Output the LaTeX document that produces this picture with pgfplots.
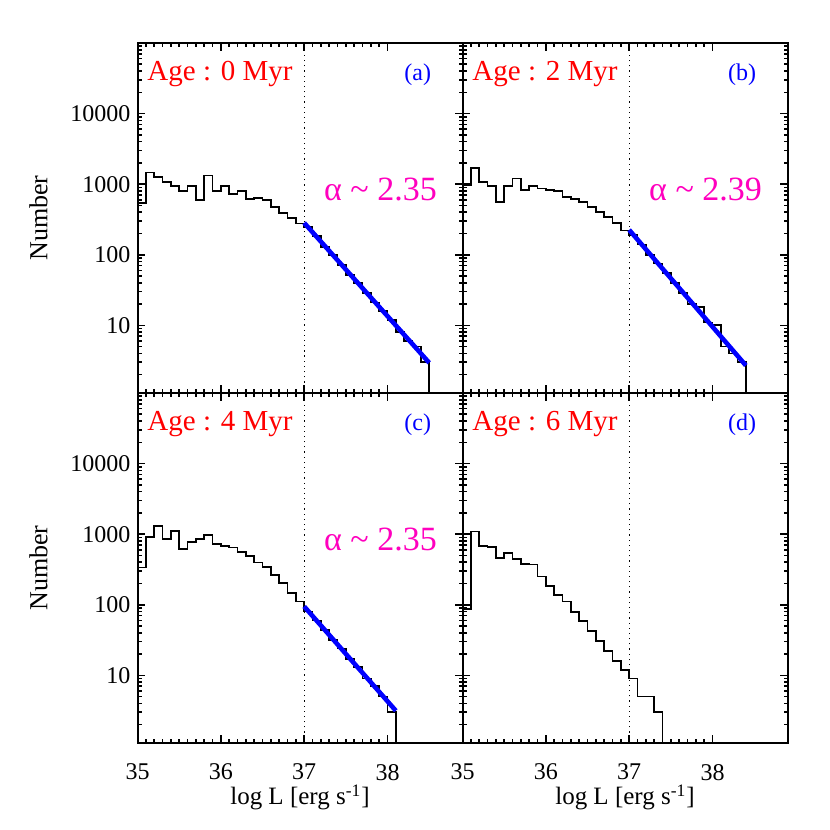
\documentclass[border=0pt]{standalone}
\usepackage{pgfplots}
\pgfplotsset{compat=1.18}
\usepackage{pgfplotstable}
\usepackage{fontspec}
\setmainfont{Liberation Serif}
\definecolor{agered}{RGB}{255,0,0}
\definecolor{lblblue}{RGB}{0,0,255}
\definecolor{alphamag}{RGB}{255,0,190}

\pgfplotstableread{
x y
35.0 535
35.1 1460
35.2 1270
35.3 1080
35.4 947
35.5 805
35.6 937
35.7 595
35.8 1325
35.9 797
36.0 947
36.1 723
36.2 805
36.3 615
36.4 635
36.5 589
36.6 480
36.7 395
36.8 335
36.9 277
37.0 245
37.1 185
37.2 130
37.3 100
37.4 72
37.5 52
37.6 40
37.7 29
37.8 21
37.9 16
38.0 12
38.1 8
38.2 6
38.3 5
38.4 3
38.5 0.5
}\histA

\pgfplotstableread{
x y
35.0 968
35.1 1700
35.2 1080
35.3 947
35.4 552
35.5 947
35.6 1200
35.7 823
35.8 947
35.9 869
36.0 832
36.1 805
36.2 663
36.3 615
36.4 552
36.5 469
36.6 399
36.7 339
36.8 285
36.9 220
37.0 190
37.1 140
37.2 100
37.3 75
37.4 55
37.5 40
37.6 29
37.7 20
37.8 18
37.9 11
38.0 10
38.1 5
38.2 4
38.3 3
38.4 0.5
}\histB

\pgfplotstableread{
x y
35.0 337
35.1 916
35.2 1313
35.3 850
35.4 1115
35.5 612
35.6 778
35.7 850
35.8 968
35.9 721
36.0 684
36.1 647
36.2 562
36.3 493
36.4 397
36.5 344
36.6 265
36.7 202
36.8 146
36.9 111
37.0 80
37.1 60
37.2 44
37.3 32
37.4 24
37.5 17
37.6 13
37.7 9
37.8 7
37.9 5
38.0 3
38.1 0.5
}\histC

\pgfplotstableread{
x y
35.0 86
35.1 1091
35.2 684
35.3 662
35.4 457
35.5 545
35.6 447
35.7 380
35.8 372
35.9 252
36.0 185
36.1 138
36.2 111
36.3 78
36.4 59
36.5 43
36.6 31
36.7 22
36.8 16
36.9 12
37.0 9
37.1 5
37.2 5
37.3 3
37.4 0.5
}\histD

\newcommand{\agefont}{\fontsize{14.5bp}{16bp}\selectfont}
\newcommand{\letfont}{\fontsize{12bp}{14bp}\selectfont}
\newcommand{\alfont}{\fontsize{17bp}{19bp}\selectfont}
\newcommand{\tlfont}{\fontsize{12bp}{14bp}\selectfont}
\newcommand{\xlbfont}{\fontsize{12.5bp}{14bp}\selectfont}
\newcommand{\ylbfont}{\fontsize{13bp}{15bp}\selectfont}

\tikzset{
  myhist/.style={const plot, black, line width=0.9bp},
  myfit/.style={blue, line width=2.3bp},
  myvline/.style={black, dotted, line width=0.6bp},
}

\begin{document}
\begin{tikzpicture}
\path[use as bounding box] (0,0) rectangle (415bp,415bp);

% (a)
\begin{semilogyaxis}[at={(68.75bp,218.5bp)}, anchor=south west,
    scale only axis, width=162.5bp, height=175bp,
    xmin=35, xmax=38.9, ymin=1.1, ymax=100000,
    xtick={35,36,37,38}, minor x tick num=9,
    ytick={10,100,1000,10000},
    minor ytick={2,3,4,5,6,7,8,9,20,30,40,50,60,70,80,90,200,300,400,500,600,700,800,900,2000,3000,4000,5000,6000,7000,8000,9000,20000,30000,40000,50000,60000,70000,80000,90000},
    tick align=inside, major tick length=3.8bp, minor tick length=2bp,
    every tick/.append style={black, line width=0.8bp},
    axis line style={line width=1bp},
    tick label style={font=\tlfont},
    ylabel style={font=\ylbfont, at={(axis description cs:-0.3046,0.5)}, anchor=center},
  xticklabels={}, yticklabels={10,100,1000,10000}, ylabel={Number}]
\addplot[myvline] coordinates {(37,1.1) (37,100000)};
\addplot[myhist] table {\histA};
\addplot[myfit] coordinates {(37,283) (38.5,2.95)};
\node[anchor=base west, text=agered, font=\agefont, inner sep=0pt] at (axis description cs:0.0295,0.893) {Age : 0 Myr};
\node[anchor=base east, text=lblblue, font=\letfont, inner sep=0pt] at (axis description cs:0.9045,0.893) {(a)};
\node[anchor=base east, text=alphamag, font=\alfont, inner sep=0pt] at (axis description cs:0.9225,0.551) {α \char"007E\ 2.35};
\end{semilogyaxis}

% (b)
\begin{semilogyaxis}[at={(231.25bp,218.5bp)}, anchor=south west,
    scale only axis, width=162.5bp, height=175bp,
    xmin=35, xmax=38.9, ymin=1.1, ymax=100000,
    xtick={35,36,37,38}, minor x tick num=9,
    ytick={10,100,1000,10000},
    minor ytick={2,3,4,5,6,7,8,9,20,30,40,50,60,70,80,90,200,300,400,500,600,700,800,900,2000,3000,4000,5000,6000,7000,8000,9000,20000,30000,40000,50000,60000,70000,80000,90000},
    tick align=inside, major tick length=3.8bp, minor tick length=2bp,
    every tick/.append style={black, line width=0.8bp},
    axis line style={line width=1bp},
    tick label style={font=\tlfont},
  xticklabels={}, yticklabels={}]
\addplot[myvline] coordinates {(37,1.1) (37,100000)};
\addplot[myhist] table {\histB};
\addplot[myfit] coordinates {(37,225) (38.4,2.7)};
\node[anchor=base west, text=agered, font=\agefont, inner sep=0pt] at (axis description cs:0.0295,0.893) {Age : 2 Myr};
\node[anchor=base east, text=lblblue, font=\letfont, inner sep=0pt] at (axis description cs:0.9045,0.893) {(b)};
\node[anchor=base east, text=alphamag, font=\alfont, inner sep=0pt] at (axis description cs:0.9225,0.551) {α \char"007E\ 2.39};
\end{semilogyaxis}

% (c)
\begin{semilogyaxis}[at={(68.75bp,43.5bp)}, anchor=south west,
    scale only axis, width=162.5bp, height=175bp,
    xmin=35, xmax=38.9, ymin=1.1, ymax=100000,
    xtick={35,36,37,38}, minor x tick num=9,
    ytick={10,100,1000,10000},
    minor ytick={2,3,4,5,6,7,8,9,20,30,40,50,60,70,80,90,200,300,400,500,600,700,800,900,2000,3000,4000,5000,6000,7000,8000,9000,20000,30000,40000,50000,60000,70000,80000,90000},
    tick align=inside, major tick length=3.8bp, minor tick length=2bp,
    every tick/.append style={black, line width=0.8bp},
    axis line style={line width=1bp},
    tick label style={font=\tlfont},
    xticklabel style={yshift=-7bp},
    ylabel style={font=\ylbfont, at={(axis description cs:-0.3046,0.5)}, anchor=center},
    xlabel style={font=\xlbfont, at={(axis description cs:0.5,0)}, anchor=center, yshift=-27.25bp},
  xticklabels={35,36,37,38}, yticklabels={10,100,1000,10000},
  ylabel={Number}, xlabel={log L [erg s\textsuperscript{-1}]}]
\addplot[myvline] coordinates {(37,1.1) (37,100000)};
\addplot[myhist] table {\histC};
\addplot[myfit] coordinates {(37,94.6) (38.1,3.15)};
\node[anchor=base west, text=agered, font=\agefont, inner sep=0pt] at (axis description cs:0.0295,0.893) {Age : 4 Myr};
\node[anchor=base east, text=lblblue, font=\letfont, inner sep=0pt] at (axis description cs:0.9045,0.893) {(c)};
\node[anchor=base east, text=alphamag, font=\alfont, inner sep=0pt] at (axis description cs:0.9225,0.551) {α \char"007E\ 2.35};
\end{semilogyaxis}

% (d)
\begin{semilogyaxis}[at={(231.25bp,43.5bp)}, anchor=south west,
    scale only axis, width=162.5bp, height=175bp,
    xmin=35, xmax=38.9, ymin=1.1, ymax=100000,
    xtick={35,36,37,38}, minor x tick num=9,
    ytick={10,100,1000,10000},
    minor ytick={2,3,4,5,6,7,8,9,20,30,40,50,60,70,80,90,200,300,400,500,600,700,800,900,2000,3000,4000,5000,6000,7000,8000,9000,20000,30000,40000,50000,60000,70000,80000,90000},
    tick align=inside, major tick length=3.8bp, minor tick length=2bp,
    every tick/.append style={black, line width=0.8bp},
    axis line style={line width=1bp},
    tick label style={font=\tlfont},
    xticklabel style={yshift=-7bp},
    xlabel style={font=\xlbfont, at={(axis description cs:0.5,0)}, anchor=center, yshift=-27.25bp},
  xticklabels={35,36,37,38}, yticklabels={},
  xlabel={log L [erg s\textsuperscript{-1}]}]
\addplot[myvline] coordinates {(37,1.1) (37,100000)};
\addplot[myhist] table {\histD};
\node[anchor=base west, text=agered, font=\agefont, inner sep=0pt] at (axis description cs:0.0295,0.893) {Age : 6 Myr};
\node[anchor=base east, text=lblblue, font=\letfont, inner sep=0pt] at (axis description cs:0.9045,0.893) {(d)};
\end{semilogyaxis}

\end{tikzpicture}
\end{document}
